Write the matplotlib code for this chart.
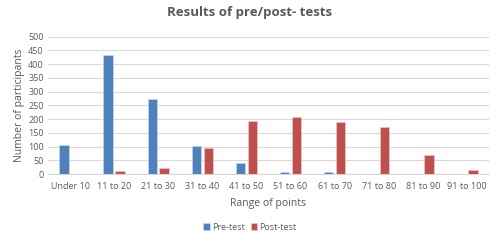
import matplotlib
matplotlib.use("Agg")
import matplotlib.pyplot as plt
import numpy as np

categories = ["Under 10", "11 to 20", "21 to 30", "31 to 40", "41 to 50",
              "51 to 60", "61 to 70", "71 to 80", "81 to 90", "91 to 100"]
pre_test = [107, 434, 274, 102, 41, 7, 7, 0, 0, 0]
post_test = [0, 10, 23, 93, 192, 209, 188, 172, 68, 16]
yticks = [0, 50, 100, 150, 200, 250, 300, 350, 400, 450, 500]

plt.rcParams['font.family'] = ['Open Sans', 'DejaVu Sans']
fig = plt.figure(figsize=(5.0, 2.41), dpi=100)
ax = fig.add_axes([0.096, 0.278, 0.882, 0.57])

x = np.arange(len(categories))
w = 0.215
gap = 0.055
ax.bar(x - (w + gap) / 2, pre_test, w, color="#4F81BD", edgecolor="#C6D6EA", linewidth=0.5, label="Pre-test", zorder=3)
ax.bar(x + (w + gap) / 2, post_test, w, color="#C0504D", edgecolor="#EBC7C6", linewidth=0.5, label="Post-test", zorder=3)

ax.set_xlim(-0.5, len(categories) - 0.5)
ax.set_ylim(0, 500)
ax.set_yticks(yticks)
ax.yaxis.grid(True, color="#D9D9D9", linewidth=0.8, zorder=0)
ax.set_axisbelow(True)
for s in ["top", "right", "left"]:
    ax.spines[s].set_visible(False)
ax.spines["bottom"].set_color("#D9D9D9")
ax.tick_params(axis="both", length=0, labelsize=6.5, colors="#595959")
ax.tick_params(axis="x", pad=6)
ax.tick_params(axis="y", pad=3)
ax.set_xticks(x)
ax.set_xticklabels(categories)
ax.set_ylabel("Number of participants", fontsize=7.5, color="#595959", labelpad=2)
ax.set_xlabel("Range of points", fontsize=7.5, color="#595959", labelpad=5)
fig.suptitle("Results of pre/post- tests", y=0.975, fontsize=9.5, fontweight="bold", color="#595959")

fig.legend(loc="lower center", bbox_to_anchor=(0.5, 0.005), ncol=2, frameon=False,
           fontsize=6.5, labelcolor="#595959", handlelength=0.7, handleheight=0.7,
           handletextpad=0.3, columnspacing=0.6)

fig.savefig("out.png", dpi=100)
